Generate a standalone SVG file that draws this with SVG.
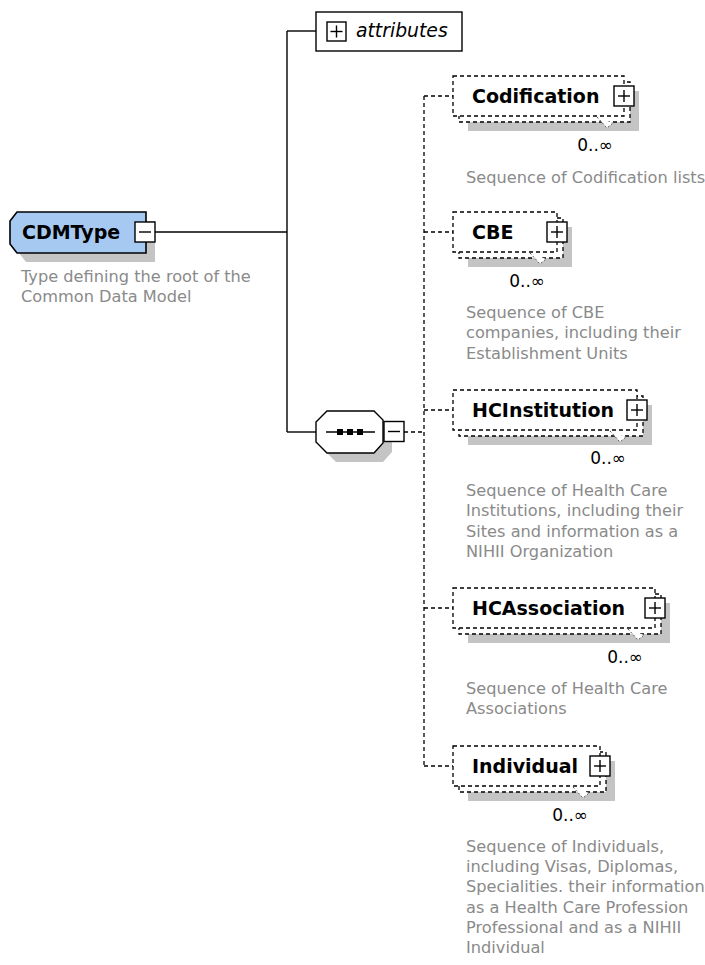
<svg xmlns="http://www.w3.org/2000/svg" width="705" height="965" viewBox="0 0 705 965">
<style>
.bg{fill:#fff}
.solid{fill:none;stroke:#000;stroke-width:1.4}
.dash{fill:none;stroke:#000;stroke-width:1.3;stroke-dasharray:4 3}
.fbox{fill:#fff;stroke:#000;stroke-width:1.3;stroke-dasharray:4 3}
.shadow{fill:#c4c4c4;stroke:none}
.btn{fill:#fff;stroke:#000;stroke-width:1.4}
.sign{stroke:#000;stroke-width:1.4;fill:none}
.notch{fill:#fff;stroke:#555;stroke-width:1;stroke-dasharray:2 2}
.lbl{font-family:"DejaVu Sans",Verdana,sans-serif;font-weight:bold;font-size:19px;fill:#000}
.occ{font-family:"DejaVu Sans",Verdana,sans-serif;font-size:17px;fill:#000}
.desc{font-family:"DejaVu Sans",Verdana,sans-serif;font-size:16.2px;fill:#8a8a8a}
.attr{font-family:"DejaVu Sans",Verdana,sans-serif;font-style:italic;font-size:18.8px;fill:#000}
</style>
<rect class="bg" x="0" y="0" width="705" height="965"/>

<g id="connectors">
  <line class="solid" x1="155" y1="232" x2="287" y2="232"/>
  <line class="solid" x1="287" y1="31" x2="287" y2="432"/>
  <line class="solid" x1="287" y1="31" x2="316" y2="31"/>
  <line class="solid" x1="287" y1="432" x2="316" y2="432"/>
  <line class="dash" x1="404" y1="432" x2="424" y2="432"/>
  <line class="dash" x1="424" y1="96" x2="424" y2="766"/>
  <line class="dash" x1="424" y1="96" x2="453" y2="96"/>
  <line class="dash" x1="424" y1="232" x2="453" y2="232"/>
  <line class="dash" x1="424" y1="410" x2="453" y2="410"/>
  <line class="dash" x1="424" y1="608" x2="453" y2="608"/>
  <line class="dash" x1="424" y1="766" x2="453" y2="766"/>
</g>

<g id="CDMType">
  <polygon class="shadow" points="26,221 155,221 155,262 26,262 19,253 19,230"/>
  <polygon points="17,212 146,212 146,253 17,253 10,244 10,221" fill="#a6c9f2" stroke="#000" stroke-width="1.6"/>
  <text class="lbl" x="22" y="239" font-size="18.5">CDMType</text>
  <rect class="btn" x="135" y="222" width="20" height="20"/>
  <line class="sign" x1="139" y1="232" x2="151" y2="232"/>
  <text class="desc" x="21" y="282">Type defining the root of the<tspan x="21" dy="20.3">Common Data Model</tspan></text>
</g>

<g id="attributes">
  <rect x="316" y="12" width="146" height="39" fill="#fff" stroke="#000" stroke-width="1.4"/>
  <rect class="btn" x="327" y="22" width="19" height="19"/>
  <line class="sign" x1="330.5" y1="31.5" x2="342.5" y2="31.5"/>
  <line class="sign" x1="336.5" y1="25.5" x2="336.5" y2="37.5"/>
  <text class="attr" x="356" y="37">attributes</text>
</g>

<g id="sequence">
  <polygon class="shadow" points="336,420 383,420 392,429 392,452 383,462 336,462 325,451 325,431"/>
  <polygon points="327,411 374,411 383,420 383,443 374,453 327,453 316,442 316,422" fill="#fff" stroke="#000" stroke-width="1.4"/>
  <line class="solid" x1="326" y1="432" x2="375" y2="432"/>
  <rect x="337" y="429" width="6" height="6" fill="#000"/>
  <rect x="347" y="429" width="6" height="6" fill="#000"/>
  <rect x="357" y="429" width="6" height="6" fill="#000"/>
  <rect class="btn" x="384" y="421.5" width="20" height="20"/>
  <line class="sign" x1="388" y1="431.5" x2="400" y2="431.5"/>
</g>

<g id="Codification">
  <rect class="shadow" x="468" y="91" width="171" height="40"/>
  <rect class="fbox" x="459" y="82" width="171" height="40"/>
  <rect class="fbox" x="453" y="76" width="171" height="40"/>
  <polyline class="notch" points="597,117 607,128 613,123"/>
  <rect class="btn" x="614" y="86" width="20" height="20"/>
  <line class="sign" x1="618" y1="96" x2="630" y2="96"/>
  <line class="sign" x1="624" y1="90" x2="624" y2="102"/>
  <text class="lbl" x="472" y="103">Codification</text>
  <text class="occ" x="613" y="151" text-anchor="end">0..∞</text>
  <text class="desc" x="466" y="183">Sequence of Codification lists</text>
</g>

<g id="CBE">
  <rect class="shadow" x="468" y="227" width="104" height="40"/>
  <rect class="fbox" x="459" y="218" width="104" height="40"/>
  <rect class="fbox" x="453" y="212" width="104" height="40"/>
  <polyline class="notch" points="530,253 540,264 546,259"/>
  <rect class="btn" x="547" y="222" width="20" height="20"/>
  <line class="sign" x1="551" y1="232" x2="563" y2="232"/>
  <line class="sign" x1="557" y1="226" x2="557" y2="238"/>
  <text class="lbl" x="472" y="239">CBE</text>
  <text class="occ" x="545" y="287" text-anchor="end">0..∞</text>
  <text class="desc" x="466" y="318">Sequence of CBE<tspan x="466" dy="20.3">companies, including their</tspan><tspan x="466" dy="20.3">Establishment Units</tspan></text>
</g>

<g id="HCInstitution">
  <rect class="shadow" x="468" y="405" width="184" height="40"/>
  <rect class="fbox" x="459" y="396" width="184" height="40"/>
  <rect class="fbox" x="453" y="390" width="184" height="40"/>
  <polyline class="notch" points="610,431 620,442 626,437"/>
  <rect class="btn" x="627" y="400" width="20" height="20"/>
  <line class="sign" x1="631" y1="410" x2="643" y2="410"/>
  <line class="sign" x1="637" y1="404" x2="637" y2="416"/>
  <text class="lbl" x="472" y="417">HCInstitution</text>
  <text class="occ" x="626" y="464" text-anchor="end">0..∞</text>
  <text class="desc" x="466" y="496">Sequence of Health Care<tspan x="466" dy="20.3">Institutions, including their</tspan><tspan x="466" dy="20.3">Sites and information as a</tspan><tspan x="466" dy="20.3">NIHII Organization</tspan></text>
</g>

<g id="HCAssociation">
  <rect class="shadow" x="468" y="603" width="202" height="40"/>
  <rect class="fbox" x="459" y="594" width="202" height="40"/>
  <rect class="fbox" x="453" y="588" width="202" height="40"/>
  <polyline class="notch" points="628,629 638,640 644,635"/>
  <rect class="btn" x="645" y="598" width="20" height="20"/>
  <line class="sign" x1="649" y1="608" x2="661" y2="608"/>
  <line class="sign" x1="655" y1="602" x2="655" y2="614"/>
  <text class="lbl" x="472" y="615">HCAssociation</text>
  <text class="occ" x="643" y="663" text-anchor="end">0..∞</text>
  <text class="desc" x="466" y="694">Sequence of Health Care<tspan x="466" dy="20.3">Associations</tspan></text>
</g>

<g id="Individual">
  <rect class="shadow" x="468" y="761" width="147" height="40"/>
  <rect class="fbox" x="459" y="752" width="147" height="40"/>
  <rect class="fbox" x="453" y="746" width="147" height="40"/>
  <polyline class="notch" points="573,787 583,798 589,793"/>
  <rect class="btn" x="590" y="756" width="20" height="20"/>
  <line class="sign" x1="594" y1="766" x2="606" y2="766"/>
  <line class="sign" x1="600" y1="760" x2="600" y2="772"/>
  <text class="lbl" x="472" y="773">Individual</text>
  <text class="occ" x="588" y="821" text-anchor="end">0..∞</text>
  <text class="desc" x="466" y="852">Sequence of Individuals,<tspan x="466" dy="20.2">including Visas, Diplomas,</tspan><tspan x="466" dy="20.2">Specialities. their information</tspan><tspan x="466" dy="20.2">as a Health Care Profession</tspan><tspan x="466" dy="20.2">Professional and as a NIHII</tspan><tspan x="466" dy="20.2">Individual</tspan></text>
</g>
</svg>
